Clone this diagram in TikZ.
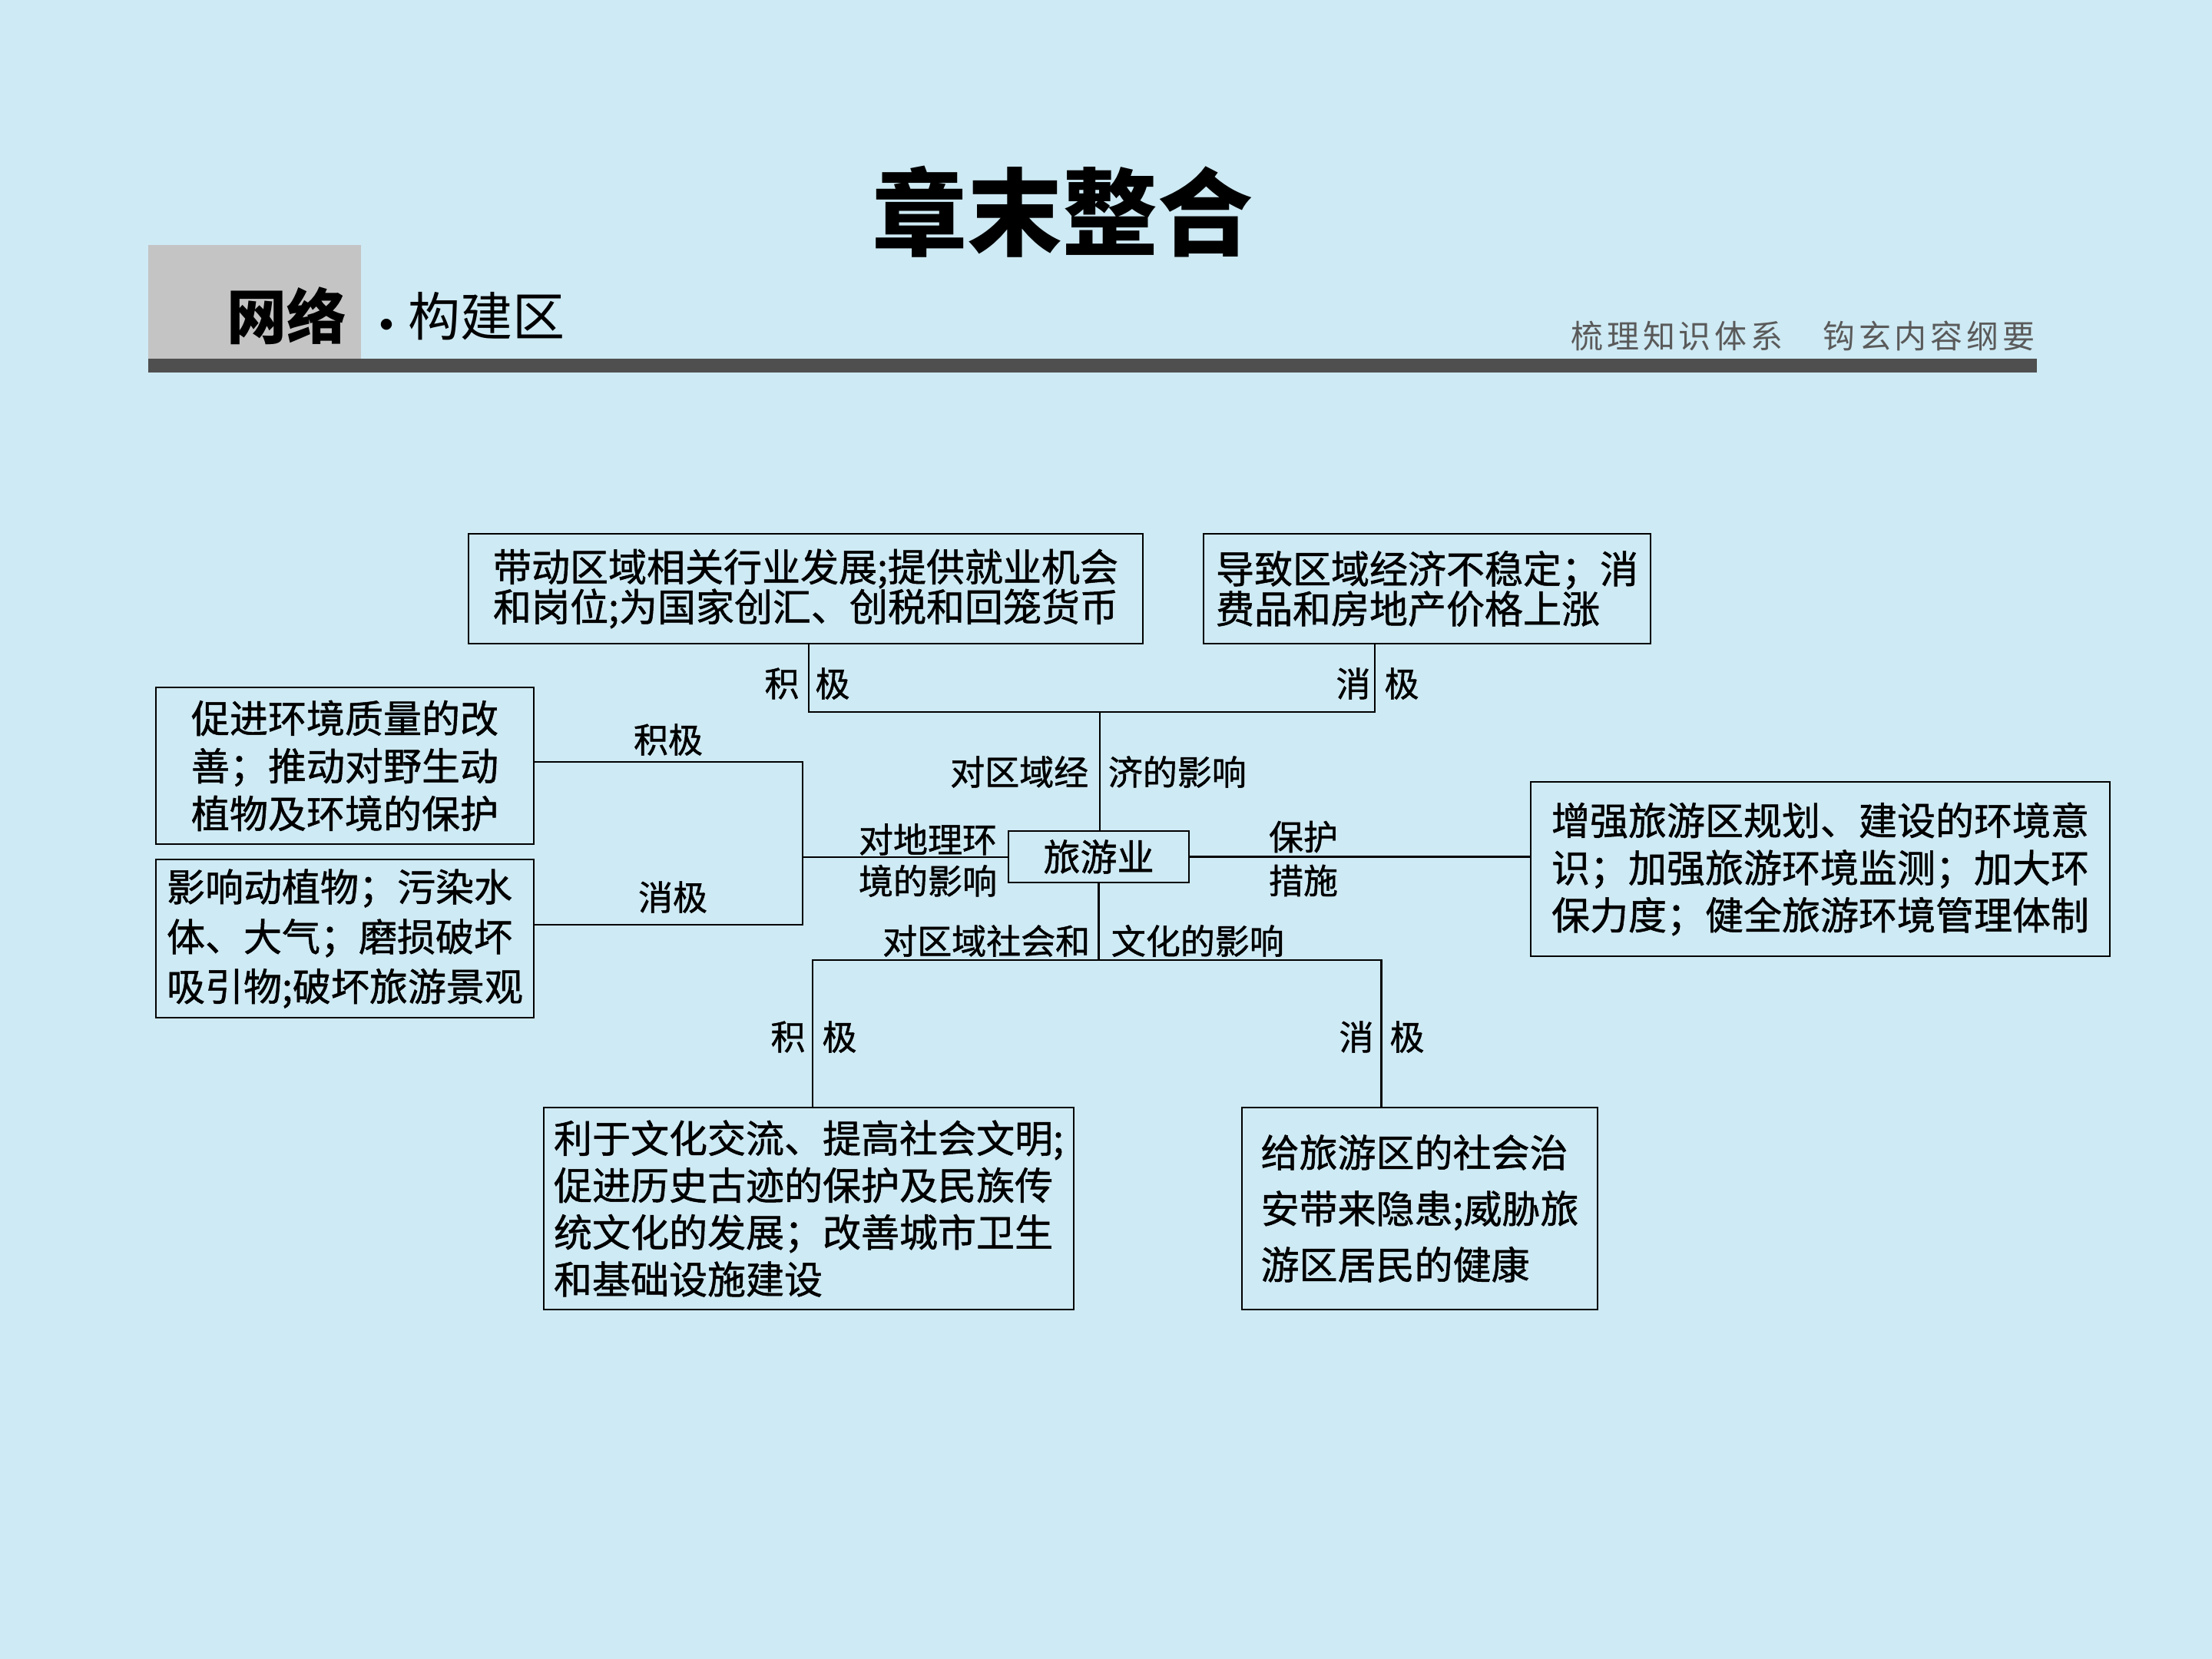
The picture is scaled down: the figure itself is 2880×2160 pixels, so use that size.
\documentclass[tikz,border=0pt]{standalone}
\usepackage{fontspec}
\setmainfont{Noto Sans CJK SC}
\newfontfamily\boxfont[FakeBold=1]{Noto Sans CJK SC}
\definecolor{bgblue}{RGB}{206,234,244}
\definecolor{hdrgray}{RGB}{196,196,196}
\definecolor{bargray}{RGB}{79,79,79}
\definecolor{subgray}{RGB}{90,90,90}
\newcommand{\ks}{\kern1.2pt}
\begin{document}
\begin{tikzpicture}[x=0.25pt,y=-0.25pt,
  box/.style={draw=black, line width=0.7pt, inner sep=0pt, align=left},
  lab/.style={inner sep=0pt, font=\boxfont\fontsize{11.25pt}{13.5pt}\selectfont},
  conn/.style={line width=0.7pt}]
\fill[bgblue] (0,0) rectangle (2880,2160);
\useasboundingbox (0,0) rectangle (2880,2160);

% header
\node[font=\fontsize{31pt}{31pt}\selectfont\bfseries] (title) at (1383,276) {章末整合};
\fill[hdrgray] (193,319) rectangle (470,467);
\fill[bargray] (193,467) rectangle (2652,485);
\node[inner sep=0pt, font=\fontsize{19.5pt}{20pt}\selectfont\bfseries] (wl) at (373,411) {网络};
\node[inner sep=0pt, font=\fontsize{17pt}{17pt}\selectfont] (dot) at (503,432) {·};
\node[inner sep=0pt, anchor=west, font=\fontsize{17pt}{17pt}\selectfont] (gj) at (531,412) {构建区};
\node[inner sep=0pt, anchor=east, text=subgray, font=\fontsize{10.5pt}{11pt}\selectfont] (sub) at (2650,437)
  {梳\ks 理\ks 知\ks 识\ks 体\ks 系\ks 　\ks 钩\ks 玄\ks 内\ks 容\ks 纲\ks 要};

% boxes
\node[box, minimum width=219.5pt, minimum height=35.75pt, font=\boxfont\fontsize{12.5pt}{13pt}\selectfont] (ecop) at (1049,766.5)
  {带动区域相关行业发展;提供就业机会\\和岗位;为国家创汇、创税和回笼货币};
\node[box, minimum width=145.5pt, minimum height=35.75pt, font=\boxfont\fontsize{12.5pt}{13pt}\selectfont] (ecom) at (1858,766.5)
  {导致区域经济不稳定；消\\费品和房地产价格上涨};
\node[box, minimum width=123pt, minimum height=51pt, font=\boxfont\fontsize{12.5pt}{15.5pt}\selectfont] (envp) at (449,997)
  {促进环境质量的改\\善；推动对野生动\\植物及环境的保护};
\node[box, minimum width=123pt, minimum height=51.5pt, font=\boxfont\fontsize{12.5pt}{16.2pt}\selectfont] (envm) at (449,1222)
  {影响动植物；污染水\\体、大气；磨损破坏\\吸引物;破坏旅游景观};
\node[box, align=center, minimum width=58.75pt, minimum height=16.75pt, font=\boxfont\fontsize{12pt}{13pt}\selectfont] (tour) at (1430.5,1115.5)
  {旅游业};
\node[box, minimum width=188.5pt, minimum height=56.75pt, font=\boxfont\fontsize{12.5pt}{15.4pt}\selectfont] (prot) at (2370,1131.5)
  {增强旅游区规划、建设的环境意\\识；加强旅游环境监测；加大环\\保力度；健全旅游环境管理体制};
\node[box, minimum width=172.5pt, minimum height=65.75pt, font=\boxfont\fontsize{12.5pt}{15.3pt}\selectfont] (socp) at (1053,1573.5)
  {利于文化交流、提高社会文明;\\促进历史古迹的保护及民族传\\统文化的发展；改善城市卫生\\和基础设施建设};
\node[box, minimum width=115.75pt, minimum height=65.75pt, font=\boxfont\fontsize{12.5pt}{18.25pt}\selectfont] (socm) at (1848.5,1573.5)
  {给旅游区的社会治\\安带来隐患;威胁旅\\游区居民的健康};

% connectors
\coordinate (ej) at (1432,927);
\draw[conn] ([xshift=1pt]ecop.south) |- (ej) -| ([xshift=-17pt]ecom.south);
\draw[conn] (ej) -- (ej |- tour.north);
\coordinate (lj) at (1045,1116);
\draw[conn] ([yshift=1.25pt]envp.east) -| (lj);
\draw[conn] ([yshift=4.5pt]envm.east) -| (lj);
\draw[conn] (lj) -- (lj -| tour.west);
\draw[conn] (tour.east) -- (tour.east -| prot.west);
\coordinate (bj) at (1430.5,1250);
\draw[conn] (tour.south) -- (bj);
\draw[conn] ([xshift=1.25pt]socp.north) |- (bj) -| ([xshift=-12.5pt]socm.north);

% labels
\node[lab] (l1a) at (1018,890) {积};
\node[lab] (l1b) at (1084,890) {极};
\node[lab] (l2a) at (1762,890) {消};
\node[lab] (l2b) at (1825,890) {极};
\node[lab] (l3) at (870,963) {积极};
\node[lab] (l4) at (876,1168) {消极};
\node[lab, anchor=east] (l5a) at (1418,1005) {对区域经};
\node[lab, anchor=west] (l5b) at (1442,1005) {济的影响};
\node[lab, align=center] (l6) at (1208,1120) {对地理环\\境的影响};
\node[lab, align=center, font=\boxfont\fontsize{11.25pt}{14.25pt}\selectfont] (l7) at (1697,1118) {保护\\措施};
\node[lab, anchor=east] (l8a) at (1420,1225) {对区域社会和};
\node[lab, anchor=west] (l8b) at (1446,1225) {文化的影响};
\node[lab] (l9a) at (1026,1350) {积};
\node[lab] (l9b) at (1093,1350) {极};
\node[lab] (l10a) at (1766,1350) {消};
\node[lab] (l10b) at (1832,1350) {极};
\end{tikzpicture}
\end{document}
